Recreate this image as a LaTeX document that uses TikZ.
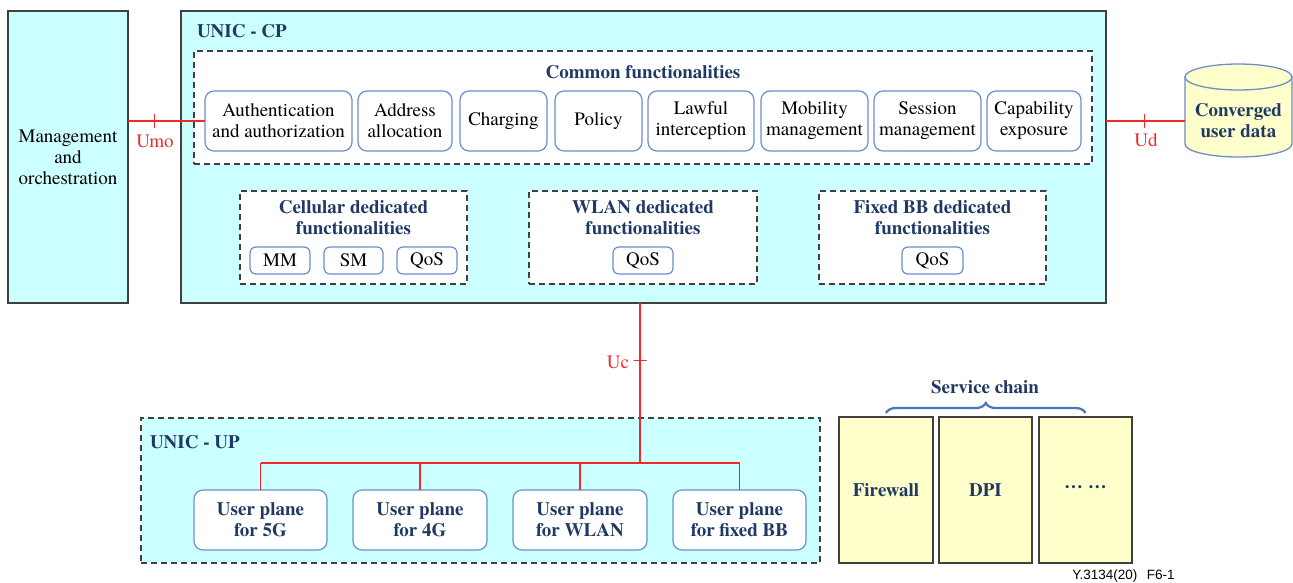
\documentclass[tikz,border=0pt]{standalone}
\usepackage{fontspec}
\setmainfont{texgyretermes}[Extension=.otf, UprightFont=*-regular, BoldFont=*-bold,
  ItalicFont=*-italic, BoldItalicFont=*-bolditalic]
\newfontfamily\captionsans{Liberation Sans}
\usetikzlibrary{decorations.pathreplacing}

\definecolor{cpfill}{HTML}{CCFFFF}
\definecolor{dbfill}{HTML}{FFFFCC}
\definecolor{navy}{HTML}{1F3864}
\definecolor{edgeblue}{HTML}{6A8FCB}
\definecolor{braceblue}{HTML}{4A74BC}
\definecolor{frame}{HTML}{404040}
\definecolor{ifred}{HTML}{F02828}

\begin{document}
\begin{tikzpicture}[x=1pt,y=-1pt,
  every node/.style={font=\fontsize{19}{21}\selectfont, inner sep=0pt, outer sep=0pt},
  solidbox/.style={draw=frame, line width=1.3pt, fill=cpfill},
  groupbox/.style={draw=frame, line width=1.4pt, dash pattern=on 6pt off 4pt, fill=white},
  func/.style={draw=edgeblue, line width=1.2pt, rounded corners=9pt, fill=white, align=center},
  smallfunc/.style={func, rounded corners=6pt, minimum height=27pt},
  upfunc/.style={func, font=\fontsize{19}{21}\selectfont\bfseries, text=navy,
    minimum height=60pt},
  title/.style={font=\fontsize{19}{21}\selectfont\bfseries, text=navy, align=center},
  iface/.style={draw=ifred, line width=1.5pt},
  ifacetext/.style={text=ifred},
  vtick/.style={draw=ifred, line width=1.3pt, minimum width=0pt, minimum height=14pt},
  htick/.style={draw=ifred, line width=1.3pt, minimum width=13pt, minimum height=0pt},
  chainbox/.style={draw=frame, line width=1.3pt, fill=dbfill,
    font=\fontsize{19}{21}\selectfont\bfseries, text=navy, minimum height=146pt},
]
\useasboundingbox (0,0) rectangle (1293,582);

% ---------- management and control plane ----------
\node[solidbox, minimum width=120pt, minimum height=292pt, align=center] (mgmt)
  at (68,157) {Management\\and\\orchestration};
\node[solidbox, minimum width=925pt, minimum height=292pt] (cp) at (643.5,157) {};
\node[title, anchor=west] (cptitle) at (197,31) {UNIC - CP};

% common functionalities
\node[groupbox, minimum width=898pt, minimum height=113pt] (common) at (643,107.5) {};
\node[title] (commontitle) at (643,72) {Common functionalities};
\node[func, minimum width=147pt, minimum height=60pt] (auth) at (278.5,121) {Authentication\\and authorization};
\node[func, minimum width=94pt, minimum height=60pt] (addr) at (405,121) {Address\\allocation};
\node[func, minimum width=87pt, minimum height=60pt] (charg) at (503.5,121) {Charging};
\node[func, minimum width=87pt, minimum height=60pt] (policy) at (598.5,121) {Policy};
\node[func, minimum width=106pt, minimum height=60pt] (lawful) at (701,121) {Lawful\\interception};
\node[func, minimum width=107pt, minimum height=60pt] (mobil) at (814.5,121) {Mobility\\management};
\node[func, minimum width=107pt, minimum height=60pt] (sess) at (927.5,121) {Session\\management};
\node[func, minimum width=94pt, minimum height=60pt] (capab) at (1034,121) {Capability\\exposure};

% access-specific functionalities
\node[groupbox, minimum width=227pt, minimum height=93pt] (cell) at (353.5,237.5) {};
\node[title] (celltitle) at (353.5,218) {Cellular dedicated\\functionalities};
\node[smallfunc, minimum width=60pt] (cellmm) at (280,260.5) {MM};
\node[smallfunc, minimum width=59pt] (cellsm) at (353.5,260.5) {SM};
\node[smallfunc, minimum width=60pt] (cellqos) at (427,260.5) {QoS};

\node[groupbox, minimum width=228pt, minimum height=93pt] (wlan) at (643,237.5) {};
\node[title] (wlantitle) at (643,218) {WLAN dedicated\\functionalities};
\node[smallfunc, minimum width=60pt] (wlanqos) at (643,260.5) {QoS};

\node[groupbox, minimum width=227pt, minimum height=93pt] (fbb) at (932.5,237.5) {};
\node[title] (fbbtitle) at (932.5,218) {Fixed BB dedicated\\functionalities};
\node[smallfunc, minimum width=61pt] (fbbqos) at (932.5,260.5) {QoS};

% ---------- converged user data store ----------
\path[draw=edgeblue, line width=1.3pt, fill=dbfill]
  (1185,77) -- (1185,144)
  arc[start angle=180, end angle=360, x radius=53.5pt, y radius=13pt]
  -- (1292,77) -- cycle;
\path[draw=edgeblue, line width=1.3pt, fill=dbfill]
  (1238.5,77) ellipse [x radius=53.5pt, y radius=13pt];
\node[title, minimum width=107pt, minimum height=67pt] (cud) at (1238.5,121) {Converged\\user data};

% ---------- user plane ----------
\node[groupbox, fill=cpfill, minimum width=679pt, minimum height=145pt] (up) at (480.5,490.5) {};
\node[title, anchor=west] (uptitle) at (150,442) {UNIC - UP};
\node[upfunc, minimum width=133pt] (up5g) at (260.5,520) {User plane\\for 5G};
\node[upfunc, minimum width=134pt] (up4g) at (420,520) {User plane\\for 4G};
\node[upfunc, minimum width=134pt] (upwlan) at (580,520) {User plane\\for WLAN};
\node[upfunc, minimum width=133pt] (upbb) at (739.5,520) {User plane\\for fixed BB};
\coordinate (bus) at (640,463);

% ---------- service chain ----------
\node[chainbox, minimum width=94pt] (fw) at (886,490) {Firewall};
\node[chainbox, minimum width=93pt] (dpi) at (985.5,490) {DPI};
\node[chainbox, minimum width=93pt] (more) at (1085.5,490) {\raisebox{5pt}{\textbf{… …}}};
\draw[decorate, decoration={brace, amplitude=10pt}, draw=braceblue, line width=2.2pt]
  ([yshift=4pt]fw.north) -- ([yshift=4pt]more.north);
\node[title] (chaintitle) at (985,387) {Service chain};

% ---------- reference points ----------
\draw[iface] (mgmt.east |- auth.west) -- node[pos=0.34, vtick] (umotick) {} (auth.west);
\node[ifacetext] (umo) at (155,141) {Umo};

\draw[iface] (cp.east |- auth.west) -- node[pos=0.49, vtick] (udtick) {} (cud.west |- auth.west);
\node[ifacetext] (ud) at (1146,140) {Ud};

\draw[iface] (bus |- cp.south) -- node[pos=0.36, htick] (uctick) {} (bus);
\node[ifacetext, anchor=east] (uc) at (629,362) {Uc};

\draw[iface] (up5g.north |- bus) -- (upbb.north |- bus);
\foreach \n in {up5g,up4g,upwlan,upbb}
  \draw[iface] (\n.north |- bus) -- (\n.north);

% figure identifier
\node[font=\captionsans\fontsize{13.5}{15}\selectfont, text=black] (figid) at (1123.5,576) {Y.3134(20)\hspace{0.7em}F6-1};
\end{tikzpicture}
\end{document}
